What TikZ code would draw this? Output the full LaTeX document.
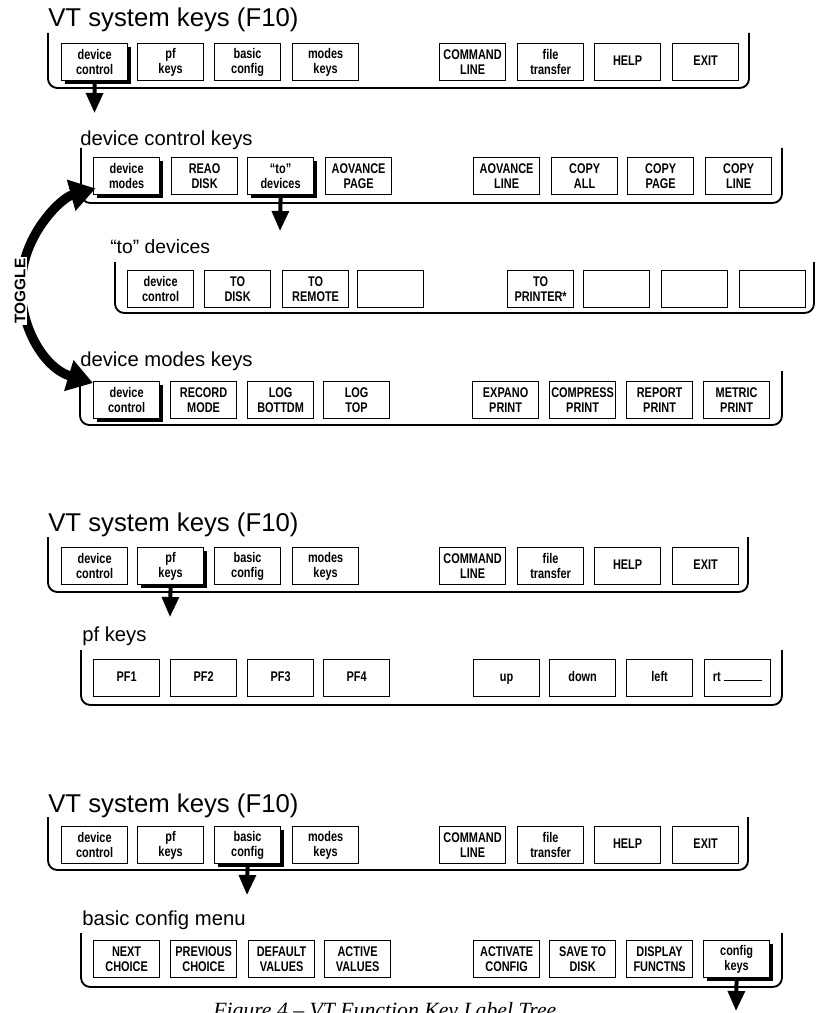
\documentclass[tikz,border=0pt]{standalone}
\usepackage{fontspec}
\setmainfont{Liberation Sans}
\newfontfamily\keyfamily[FakeStretch=0.78]{Liberation Sans}
\newfontfamily\capfamily{Liberation Serif}
\usetikzlibrary{arrows.meta,shadows}

\tikzset{
  frame/.style={line width=1.4pt, rounded corners=7pt},
  key/.style={draw, line width=0.9pt, fill=white, minimum width=49.5pt,
    minimum height=27.75pt, inner sep=0pt, align=center, anchor=north west,
    font=\keyfamily\bfseries\fontsize{10.5}{11.5}\selectfont},
  hotkey/.style={key, drop shadow={shadow xshift=2.2pt, shadow yshift=-2.2pt,
    opacity=1, fill=black}},
  paneltitle/.style={anchor=base west, inner sep=0pt,
    font=\fontsize{19.3}{21}\selectfont},
  subtitle/.style={anchor=base west, inner sep=0pt,
    font=\fontsize{15.2}{17}\selectfont},
  downarrow/.style={line width=3pt, -{Triangle[length=15pt,width=12.5pt]}},
  togglearrow/.style={line width=7pt,
    {Triangle[length=19pt,width=23pt]}-{Triangle[length=19pt,width=23pt]}},
}
\newcommand\fkey[5][key]{\node[#1] (#2) at (#3,#4) {#5};}

\begin{document}
\begin{tikzpicture}[x=0.75pt,y=-0.75pt]
\useasboundingbox (0,0) rectangle (816,1013);

% ---------- VT system keys, first copy ----------
\node[paneltitle] (t1) at (48,27) {VT system keys (F10)};
\draw[frame] (48,33) -- (48,88) -- (749,88) -- (749,33);
\fkey[hotkey]{a1}{61}{43}{device\\control}
\fkey{a2}{137}{43}{pf\\keys}
\fkey{a3}{214}{43}{basic\\config}
\fkey{a4}{292}{43}{modes\\keys}
\fkey{a5}{439}{43}{COMMAND\\LINE}
\fkey{a6}{517}{43}{file\\transfer}
\fkey{a7}{594}{43}{\strut HELP}
\fkey{a8}{672}{43}{\strut EXIT}
\coordinate (a1tip) at (94.5,113);
\draw[downarrow] (a1.south) -- (a1tip);

% ---------- device control keys ----------
\node[subtitle] (t2) at (80,146) {device control keys};
\draw[frame] (81,148) -- (81,203) -- (782,203) -- (782,148);
\fkey[hotkey]{b1}{93}{157}{device\\modes}
\fkey{b2}{171}{157}{REAO\\DISK}
\fkey[hotkey]{b3}{247}{157}{“to”\\devices}
\fkey{b4}{325}{157}{AOVANCE\\PAGE}
\fkey{b5}{473}{157}{AOVANCE\\LINE}
\fkey{b6}{551}{157}{COPY\\ALL}
\fkey{b7}{627}{157}{COPY\\PAGE}
\fkey{b8}{705}{157}{COPY\\LINE}
\coordinate (b3tip) at (280,231);
\draw[downarrow] (b3.south) -- (b3tip);

% ---------- "to" devices ----------
\node[subtitle, font=\fontsize{14.5}{16}\selectfont] (t3) at (110,253) {“to” devices};
\draw[frame] (115,262) -- (115,313) -- (814,313) -- (814,262);
\fkey{c1}{127}{270}{device\\control}
\fkey{c2}{204}{270}{TO\\DISK}
\fkey{c3}{282}{270}{TO\\REMOTE}
\fkey{c4}{357}{270}{}
\fkey{c5}{507}{270}{TO\\PRINTER*}
\fkey{c6}{583}{270}{}
\fkey{c7}{661}{270}{}
\fkey{c8}{739}{270}{}

% ---------- device modes keys ----------
\node[subtitle] (t4) at (80,366) {device modes keys};
\draw[frame] (80,371) -- (80,425) -- (782,425) -- (782,371);
\fkey[hotkey]{d1}{93}{381}{device\\control}
\fkey{d2}{170}{381}{RECORD\\MODE}
\fkey{d3}{247}{381}{LOG\\BOTTDM}
\fkey{d4}{323}{381}{LOG\\TOP}
\fkey{d5}{472}{381}{EXPANO\\PRINT}
\fkey{d6}{549}{381}{COMPRESS\\PRINT}
\fkey{d7}{626}{381}{REPORT\\PRINT}
\fkey{d8}{703}{381}{METRIC\\PRINT}

% toggle between device modes and device control
\coordinate (tglB) at (93,383);
\draw[togglearrow] (tglB) arc[start angle=253, end angle=105.5, radius=76pt];
\node[rotate=90, fill=white, inner sep=1pt,
  font=\bfseries\fontsize{11.5}{12}\selectfont] (tgl) at (20,291) {TOGGLE};

% ---------- VT system keys, second copy ----------
\node[paneltitle] (t5) at (48,531) {VT system keys (F10)};
\draw[frame] (48,537) -- (48,592) -- (748,592) -- (748,537);
\fkey{e1}{61}{547}{device\\control}
\fkey[hotkey]{e2}{137}{547}{pf\\keys}
\fkey{e3}{214}{547}{basic\\config}
\fkey{e4}{292}{547}{modes\\keys}
\fkey{e5}{439}{547}{COMMAND\\LINE}
\fkey{e6}{517}{547}{file\\transfer}
\fkey{e7}{594}{547}{\strut HELP}
\fkey{e8}{672}{547}{\strut EXIT}
\coordinate (e2tip) at (170,617);
\draw[downarrow] (e2.south) -- (e2tip);

% ---------- pf keys ----------
\node[subtitle] (t6) at (82,641) {pf keys};
\draw[frame] (81,650) -- (81,705) -- (782,705) -- (782,650);
\fkey{f1}{93}{659}{\strut PF1}
\fkey{f2}{170}{659}{\strut PF2}
\fkey{f3}{247}{659}{\strut PF3}
\fkey{f4}{323}{659}{\strut PF4}
\fkey{f5}{473}{659}{\strut up}
\fkey{f6}{549}{659}{\strut down}
\fkey{f7}{626}{659}{\strut left}
\fkey{f8}{704}{659}{\strut rt~\rule{29pt}{0.6pt}}

% ---------- VT system keys, third copy ----------
\node[paneltitle] (t7) at (48,812) {VT system keys (F10)};
\draw[frame] (48,817) -- (48,870) -- (748,870) -- (748,817);
\fkey{g1}{61}{826}{device\\control}
\fkey{g2}{137}{826}{pf\\keys}
\fkey[hotkey]{g3}{214}{826}{basic\\config}
\fkey{g4}{292}{826}{modes\\keys}
\fkey{g5}{439}{826}{COMMAND\\LINE}
\fkey{g6}{517}{826}{file\\transfer}
\fkey{g7}{594}{826}{\strut HELP}
\fkey{g8}{672}{826}{\strut EXIT}
\coordinate (g3tip) at (247,895);
\draw[downarrow] (g3.south) -- (g3tip);

% ---------- basic config menu ----------
\node[subtitle] (t8) at (82,925) {basic config menu};
\draw[frame] (81,933) -- (81,987) -- (782,987) -- (782,933);
\fkey{h1}{93}{940}{NEXT\\CHOICE}
\fkey{h2}{170}{940}{PREVIOUS\\CHOICE}
\fkey{h3}{248}{940}{DEFAULT\\VALUES}
\fkey{h4}{324}{940}{ACTIVE\\VALUES}
\fkey{h5}{473}{940}{ACTIVATE\\CONFIG}
\fkey{h6}{549}{940}{SAVE TO\\DISK}
\fkey{h7}{626}{940}{DISPLAY\\FUNCTNS}
\fkey[hotkey]{h8}{703}{940}{config\\keys}
\coordinate (h8tip) at (736,1011);
\draw[downarrow] (h8.south) -- (h8tip);

% caption
\node[anchor=base west, inner sep=0pt,
  font=\capfamily\itshape\fontsize{16.3}{18}\selectfont] (cap) at (213,1017)
  {Figure 4 – VT Function Key Label Tree};
\end{tikzpicture}
\end{document}
